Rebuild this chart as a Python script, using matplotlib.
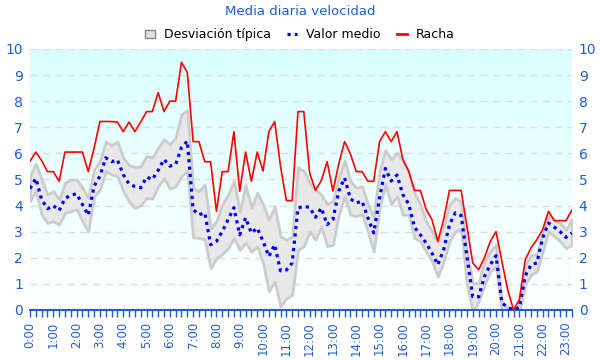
import numpy as np
import matplotlib.pyplot as plt
from matplotlib.patches import Patch
from matplotlib.lines import Line2D
from matplotlib.ticker import MultipleLocator

# 15-minute samples, 0:00 .. 23:15
racha = [5.7, 6.05, 5.72, 5.3, 5.3, 4.93, 6.05, 6.05, 6.05, 6.05, 5.3, 6.2,
         7.22, 7.22, 7.22, 7.2, 6.83, 7.2, 6.83, 7.2, 7.6, 7.6, 8.33, 7.6,
         8.0, 8.0, 9.49, 9.1, 6.45, 6.45, 5.68, 5.68, 3.78, 5.3, 5.3, 6.83,
         4.55, 6.05, 4.93, 6.05, 5.32, 6.83, 7.22, 5.51, 4.19, 4.19, 7.6, 7.6,
         5.25, 4.58, 4.96, 5.68, 4.55, 5.6, 6.45, 5.98, 5.3, 5.3, 4.93, 4.93,
         6.45, 6.83, 6.45, 6.83, 5.77, 5.32, 4.58, 4.58, 3.85, 3.46, 2.63, 3.46,
         4.58, 4.58, 4.58, 3.2, 1.8, 1.54, 2.0, 2.62, 3.0, 1.86, 0.77, 0.0,
         0.4, 1.92, 2.38, 2.69, 3.08, 3.78, 3.42, 3.42, 3.42, 3.82]

medio = [4.65, 5.04, 4.23, 3.88, 4.0, 3.81, 4.27, 4.4, 4.45, 4.04, 3.63, 4.74,
         5.13, 5.83, 5.68, 5.75, 5.19, 4.83, 4.73, 4.68, 5.09, 5.0, 5.35, 5.77,
         5.51, 5.58, 6.22, 6.47, 3.85, 3.65, 3.72, 2.5, 2.63, 3.01, 3.46, 3.92,
         2.88, 3.53, 2.95, 3.14, 2.63, 2.05, 2.5, 1.5, 1.53, 1.8, 3.91, 3.97,
         3.93, 3.55, 3.91, 3.27, 3.46, 4.55, 5.06, 4.26, 4.1, 4.17, 3.53, 2.95,
         4.29, 5.42, 4.94, 5.17, 4.42, 4.06, 3.17, 2.88, 2.56, 2.18, 1.73, 2.31,
         3.27, 3.72, 3.62, 2.05, 0.51, 0.5, 1.28, 1.73, 2.08, 0.27, 0.1, 0.0,
         0.1, 1.3, 1.73, 1.8, 2.76, 3.33, 3.17, 3.0, 2.78, 2.95]

desv_sup = [5.13, 5.6, 5.0, 4.42, 4.55, 4.23, 4.87, 5.0, 5.0, 4.68, 4.29, 5.38,
            5.7, 6.45, 6.32, 6.45, 5.83, 5.55, 5.48, 5.5, 5.9, 5.83, 6.22, 6.54,
            6.35, 6.6, 7.5, 7.65, 4.68, 4.55, 4.81, 3.14, 3.4, 4.04, 4.42, 4.94,
            3.78, 4.78, 3.91, 4.49, 4.04, 3.46, 3.97, 2.82, 2.69, 2.82, 5.47, 5.32,
            4.87, 4.62, 4.42, 4.06, 4.17, 5.06, 5.73, 4.94, 4.68, 4.74, 4.04, 3.59,
            5.32, 6.12, 5.77, 6.03, 5.71, 5.26, 4.49, 4.04, 3.4, 3.01, 2.63, 3.2,
            4.04, 4.29, 4.15, 2.24, 1.03, 1.03, 1.86, 2.24, 2.5, 0.26, 0.1, 0.0,
            0.2, 1.73, 2.1, 2.14, 2.95, 3.59, 3.46, 3.33, 3.08, 3.46]

desv_inf = [4.17, 4.55, 3.65, 3.33, 3.4, 3.27, 3.72, 3.78, 3.87, 3.4, 3.01, 4.36,
            4.6, 5.32, 5.19, 5.13, 4.55, 4.14, 3.91, 4.0, 4.29, 4.27, 4.74, 5.04,
            4.65, 4.74, 5.13, 5.32, 2.78, 2.76, 2.7, 1.6, 1.99, 2.14, 2.37, 2.76,
            2.31, 2.57, 2.24, 2.44, 1.8, 0.71, 1.09, 0.13, 0.45, 0.58, 2.31, 2.44,
            3.01, 2.69, 3.2, 2.44, 2.5, 3.65, 4.36, 3.65, 3.59, 3.68, 3.01, 2.24,
            3.91, 4.81, 4.04, 4.36, 3.65, 3.65, 2.76, 2.63, 2.24, 1.86, 1.28, 1.86,
            2.63, 3.01, 3.1, 0.97, -0.05, 0.32, 0.96, 1.47, 1.67, -0.05, -0.1, -0.1,
            -0.1, 0.97, 1.35, 1.47, 2.24, 3.01, 2.82, 2.63, 2.37, 2.5]

horas = ['%d:00' % h for h in range(24)]

x = np.arange(len(racha)) * 0.25
azul = '#1f5fd0'

fig = plt.figure(figsize=(6, 3.6), dpi=100)
ax = fig.add_axes([0.05, 0.139, 0.903, 0.725])

# background gradient (light cyan at top fading to white)
grad = np.linspace(1, 0, 256).reshape(-1, 1)
cols = np.zeros((256, 1, 3))
cols[..., 0] = 1 - 0.15 * grad
cols[..., 1] = 1
cols[..., 2] = 1
ax.imshow(cols, extent=[0, 23.25, 0, 10], aspect='auto', zorder=0)

for y in range(1, 11):
    ax.axhline(y, color='#dddddd', lw=1, ls=(0, (5, 4)), zorder=1)

ax.fill_between(x, desv_inf, desv_sup, facecolor='#e8e8e8', edgecolor='#cccccc',
                lw=2, zorder=2)
ax.plot(x, medio, color='blue', lw=2.3, ls=(0, (1, 1.3)), zorder=3)
ax.plot(x, racha, color='red', lw=1.2, zorder=4)

ax.set_xlim(0, 23.25)
ax.set_ylim(0, 10)
ax.set_xticks(range(24))
ax.set_xticklabels(horas, rotation=90)
ax.xaxis.set_minor_locator(MultipleLocator(0.25))
ax.set_yticks(range(11))
ax.tick_params(axis='x', which='both', colors=azul, length=5, width=1, labelsize=8.5)
ax.tick_params(axis='y', colors=azul, length=0, labelsize=10, pad=5,
               labelleft=True, labelright=True)
for s in ['top', 'left', 'right']:
    ax.spines[s].set_visible(False)
ax.spines['bottom'].set_color(azul)
ax.spines['bottom'].set_linewidth(1.5)

fig.suptitle('Media diaria velocidad', color=azul, fontsize=9.5, y=0.985)
handles = [Patch(facecolor='#e0e0e0', edgecolor='#888888', label='Desviación típica'),
           Line2D([], [], color='blue', lw=2.3, ls=(0, (1, 1.3)), label='Valor medio'),
           Line2D([], [], color='red', lw=2, label='Racha')]
fig.legend(handles=handles, loc='center', bbox_to_anchor=(0.5, 0.903), ncol=3,
           frameon=False, fontsize=9, handlelength=0.8, handleheight=0.7,
           handletextpad=0.7, columnspacing=1.3)

fig.savefig('out.png')
